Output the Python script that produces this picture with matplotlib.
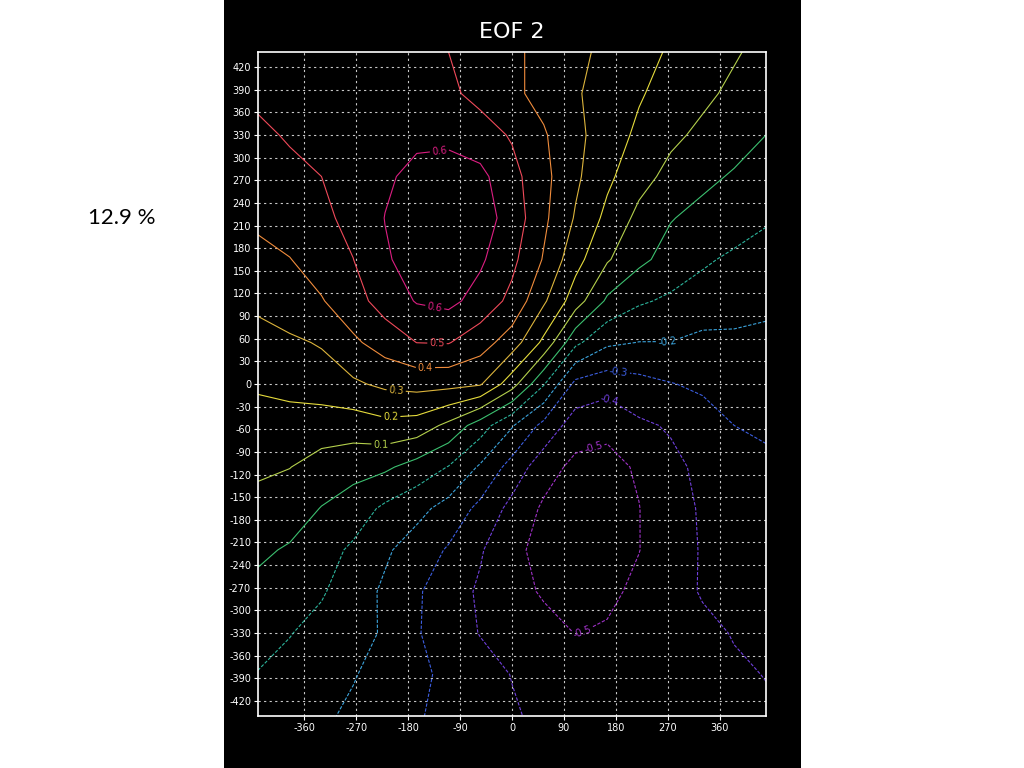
import numpy as np
import matplotlib
matplotlib.use("Agg")
import matplotlib.pyplot as plt
from matplotlib.patches import Rectangle

# grid of the EOF 2 field
x_pts = [-440, -385, -330, -275, -220, -165, -110, -55, 0, 55, 110, 165, 220, 275, 330, 385, 440]
y_pts = [440, 385, 330, 275, 220, 165, 110, 55, 0, -55, -110, -165, -220, -275, -330, -385, -440]

eof2 = [
    [0.54, 0.55, 0.55, 0.55, 0.54, 0.52, 0.50, 0.46, 0.42, 0.37, 0.32, 0.28, 0.23, 0.19, 0.15, 0.11, 0.07],
    [0.52, 0.55, 0.57, 0.58, 0.58, 0.56, 0.52, 0.47, 0.42, 0.37, 0.31, 0.26, 0.21, 0.16, 0.12, 0.08, 0.04],
    [0.48, 0.51, 0.55, 0.57, 0.57, 0.58, 0.575, 0.545, 0.49, 0.41, 0.325, 0.25, 0.18, 0.12, 0.08, 0.04, 0.0],
    [0.45, 0.475, 0.50, 0.543, 0.586, 0.625, 0.645, 0.625, 0.533, 0.428, 0.318, 0.221, 0.135, 0.072, 0.023, -0.01, -0.04],
    [0.417, 0.448, 0.48, 0.526, 0.602, 0.64, 0.655, 0.645, 0.56, 0.42, 0.291, 0.174, 0.074, 0.005, -0.028, -0.059, -0.09],
    [0.375, 0.397, 0.446, 0.499, 0.59, 0.635, 0.655, 0.615, 0.525, 0.392, 0.235, 0.11, 0.023, -0.037, -0.088, -0.115, -0.135],
    [0.32, 0.357, 0.393, 0.463, 0.54, 0.607, 0.625, 0.564, 0.473, 0.315, 0.148, -0.017, -0.087, -0.117, -0.136, -0.159, -0.18],
    [0.266, 0.284, 0.308, 0.382, 0.446, 0.501, 0.505, 0.443, 0.351, 0.177, -0.077, -0.183, -0.202, -0.202, -0.227, -0.22, -0.221],
    [0.212, 0.233, 0.255, 0.285, 0.32, 0.335, 0.33, 0.31, 0.143, -0.092, -0.327, -0.357, -0.33, -0.304, -0.283, -0.262, -0.256],
    [0.164, 0.156, 0.145, 0.147, 0.171, 0.157, 0.075, -0.051, -0.191, -0.329, -0.45, -0.48, -0.417, -0.39, -0.344, -0.3, -0.29],
    [0.117, 0.102, 0.064, 0.036, 0.017, -0.039, -0.104, -0.213, -0.338, -0.458, -0.525, -0.525, -0.49, -0.423, -0.379, -0.346, -0.313],
    [0.068, 0.05, -0.004, -0.049, -0.119, -0.17, -0.236, -0.325, -0.43, -0.515, -0.535, -0.535, -0.502, -0.44, -0.389, -0.36, -0.33],
    [0.018, -0.011, -0.062, -0.116, -0.185, -0.247, -0.31, -0.39, -0.48, -0.525, -0.545, -0.54, -0.502, -0.442, -0.393, -0.37, -0.347],
    [-0.025, -0.054, -0.09, -0.152, -0.216, -0.288, -0.353, -0.414, -0.468, -0.51, -0.535, -0.52, -0.48, -0.43, -0.394, -0.38, -0.365],
    [-0.065, -0.096, -0.132, -0.168, -0.21, -0.292, -0.351, -0.404, -0.437, -0.47, -0.502, -0.49, -0.465, -0.441, -0.417, -0.396, -0.382],
    [-0.104, -0.131, -0.163, -0.194, -0.235, -0.279, -0.321, -0.362, -0.403, -0.43, -0.45, -0.46, -0.455, -0.44, -0.425, -0.41, -0.398],
    [-0.135, -0.16, -0.185, -0.217, -0.254, -0.292, -0.325, -0.357, -0.39, -0.42, -0.44, -0.45, -0.45, -0.44, -0.43, -0.42, -0.41],
]

levels = [-0.5, -0.4, -0.3, -0.2, -0.1, 0.0, 0.1, 0.2, 0.3, 0.4, 0.5, 0.6]
level_colors = ['#a032c8', '#7040dc', '#3c5ee0', '#3ca4dc', '#2cb49c', '#3cc070',
                '#b4d04c', '#e6dc3c', '#dcb43c', '#f08c3c', '#f04a5a', '#dc1e82']

x_ticks = [-360, -270, -180, -90, 0, 90, 180, 270, 360]
y_ticks = [-420, -390, -360, -330, -300, -270, -240, -210, -180, -150, -120, -90, -60, -30,
           0, 30, 60, 90, 120, 150, 180, 210, 240, 270, 300, 330, 360, 390, 420]

# where GrADS put the contour labels (0 and -0.1 have none)
label_spots = [(-125, 304), (-136, 93), (-130, 53), (-150, 21), (-201, -12), (-210, -45),
               (-227, -81), (269, 57), (186, 24), (172, -17), (139, -79), (125, -332)]

fig = plt.figure(figsize=(10.24, 7.68), dpi=100)
fig.patch.set_facecolor('white')
fig.patches.append(Rectangle((224 / 1024, 0), 577 / 1024, 1, transform=fig.transFigure,
                             facecolor='black', edgecolor='none', zorder=-10))

ax = fig.add_axes([258 / 1024, 52 / 768, 508 / 1024, 664 / 768])
ax.set_zorder(1)
ax.set_facecolor('black')

styles = [(0, (3, 1.5)) if lev < 0 else 'solid' for lev in levels]
cs = ax.contour(x_pts, y_pts, np.array(eof2), levels=levels, colors=level_colors,
                linewidths=0.8, linestyles=styles)
ax.clabel(cs, manual=label_spots, fmt='%.1f', fontsize=7, inline=True, inline_spacing=2)

ax.set_xlim(-440, 440)
ax.set_ylim(-440, 440)
ax.set_xticks(x_ticks)
ax.set_xticklabels([str(v) for v in x_ticks])
ax.set_yticks(y_ticks)
ax.set_yticklabels([str(v) for v in y_ticks])
ax.tick_params(colors='white', labelsize=7, length=3, width=0.8, direction='out', pad=2)
for sp in ax.spines.values():
    sp.set_color('white')
    sp.set_linewidth(1.2)
ax.set_axisbelow(True)
ax.grid(True, color='#c8c8c8', linestyle=(0, (2, 3)), linewidth=0.8)

fig.text(0.5, 1 - 32 / 768, 'EOF 2', ha='center', va='center', color='white', fontsize=16,
         family='DejaVu Sans')
fig.text(122 / 1024, 1 - 218 / 768, '12.9 %', ha='center', va='center', color='black',
         fontsize=16, family='Lato')

fig.savefig('out.png', dpi=100, facecolor=fig.get_facecolor())
